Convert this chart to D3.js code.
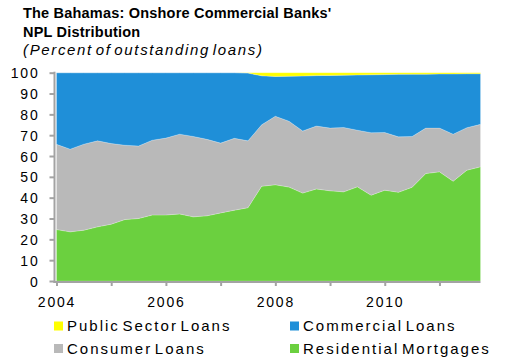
<!DOCTYPE html>
<html>
<head>
<meta charset="utf-8">
<script src="https://cdn.jsdelivr.net/npm/d3@7/dist/d3.min.js"></script>
<style>
  html, body { margin: 0; padding: 0; background: #fff; }
  svg { display: block; font-family: "Liberation Sans", Arial, sans-serif; }
</style>
</head>
<body>
<svg id="chart" width="517" height="361"></svg>
<script>
// Quarterly observations, 2004Q1 – 2011Q4
const quarters = [
  "2004Q1","2004Q2","2004Q3","2004Q4","2005Q1","2005Q2","2005Q3","2005Q4",
  "2006Q1","2006Q2","2006Q3","2006Q4","2007Q1","2007Q2","2007Q3","2007Q4",
  "2008Q1","2008Q2","2008Q3","2008Q4","2009Q1","2009Q2","2009Q3","2009Q4",
  "2010Q1","2010Q2","2010Q3","2010Q4","2011Q1","2011Q2","2011Q3","2011Q4"
];

// Share of non-performing loans by category (percent)
const residentialMortgages = [
  24.7, 23.6, 24.4, 26.0, 27.3, 29.5, 30.0, 31.7,
  31.7, 32.2, 30.8, 31.3, 32.7, 34.0, 35.2, 45.5,
  46.2, 45.1, 42.2, 44.2, 43.3, 42.8, 45.2, 41.2,
  43.6, 42.6, 45.0, 51.6, 52.4, 47.9, 53.2, 54.8
];
const consumerLoans = [
  40.9, 39.7, 41.3, 41.3, 38.7, 35.7, 34.8, 35.9,
  36.9, 38.3, 38.6, 36.7, 33.5, 34.5, 32.1, 29.5,
  32.9, 31.6, 29.8, 30.2, 30.1, 30.9, 27.2, 30.0,
  27.7, 26.6, 24.4, 21.8, 21.0, 22.6, 20.4, 20.4
];
const publicSectorLoans = [
  0, 0, 0, 0, 0, 0, 0, 0,
  0, 0, 0, 0, 0, 0, 0.2, 1.5,
  1.8, 1.7, 1.6, 1.4, 1.3, 1.2, 1.1, 1.0,
  0.9, 0.8, 0.7, 0.7, 0.6, 0.6, 0.5, 0.5
];
const commercialLoans = [
  34.4, 36.7, 34.3, 32.7, 34.0, 34.8, 35.2, 32.4,
  31.4, 29.5, 30.6, 32.0, 33.8, 31.5, 32.5, 23.5,
  19.1, 21.6, 26.4, 24.2, 25.3, 25.1, 26.5, 27.8,
  27.8, 30.0, 29.9, 25.9, 26.0, 28.9, 25.9, 24.3
];

const yTicks = [0, 10, 20, 30, 40, 50, 60, 70, 80, 90, 100];
const xTickYears = [2004, 2005, 2006, 2007, 2008, 2009, 2010, 2011];

const seriesInfo = [
  { key: "residential", name: "Residential Mortgages", color: "#6bd03f", values: residentialMortgages },
  { key: "consumer",    name: "Consumer Loans",        color: "#b9b9b9", values: consumerLoans },
  { key: "commercial",  name: "Commercial Loans",      color: "#1f8fd8", values: commercialLoans },
  { key: "public",      name: "Public Sector Loans",   color: "#ffff00", values: publicSectorLoans }
];

const rows = quarters.map((q, i) => {
  const row = { t: +q.slice(0, 4) + (+q.slice(5) - 1) / 4 };
  seriesInfo.forEach(s => { row[s.key] = s.values[i]; });
  return row;
});

const svg = d3.select("#chart");

const x = d3.scaleLinear().domain([2004, 2011.75]).range([56.5, 480.5]);
const y = d3.scaleLinear().domain([0, 100]).range([281, 72.7]);

const stack = d3.stack().keys(seriesInfo.map(s => s.key));
const layers = stack(rows);

const area = d3.area()
  .x(d => x(d.data.t))
  .y0(d => y(d[0]))
  .y1(d => y(d[1]));

svg.append("g")
  .selectAll("path")
  .data(layers)
  .join("path")
  .attr("d", area)
  .attr("fill", (d, i) => seriesInfo[i].color)
  .attr("stroke", "#ffffff")
  .attr("stroke-opacity", 0.35)
  .attr("stroke-width", 0.6);

const axisColor = "#a3a3a3";
const tickFont = { size: "14px", spacing: "1.8px" };

// y axis
const yAxis = svg.append("g")
  .attr("transform", "translate(54.5,0)")
  .call(d3.axisLeft(y).tickValues(yTicks).tickSize(5).tickSizeOuter(0).tickPadding(10));
yAxis.select(".domain").attr("stroke", axisColor).attr("stroke-width", 2)
  .attr("d", `M0,${y(100) - 1}V${y(0) + 2}`);
yAxis.selectAll(".tick line").attr("stroke", axisColor).attr("stroke-width", 2);
yAxis.selectAll(".tick text")
  .attr("fill", "#000")
  .style("font-size", tickFont.size)
  .style("letter-spacing", tickFont.spacing)
  .attr("dy", "0.36em");

// x axis
const xAxis = svg.append("g")
  .attr("transform", "translate(0,282)")
  .call(d3.axisBottom(x).tickValues(xTickYears).tickSize(4).tickSizeOuter(0).tickPadding(11)
    .tickFormat(d => (d % 2 === 0 ? String(d) : "")));
xAxis.select(".domain").attr("stroke", axisColor).attr("stroke-width", 2)
  .attr("d", `M53.5,0H${x(2011.75)}`);
xAxis.selectAll(".tick line").attr("stroke", axisColor).attr("stroke-width", 2);
xAxis.selectAll(".tick text")
  .attr("fill", "#000")
  .style("font-size", tickFont.size)
  .style("letter-spacing", tickFont.spacing);

// titles
svg.append("text")
  .attr("x", 23).attr("y", 17.5)
  .style("font-size", "14.5px").style("font-weight", "bold").style("letter-spacing", "0.2px")
  .text("The Bahamas: Onshore Commercial Banks'");
svg.append("text")
  .attr("x", 23).attr("y", 37)
  .style("font-size", "14.5px").style("font-weight", "bold").style("letter-spacing", "0.2px")
  .text("NPL Distribution");
svg.append("text")
  .attr("x", 23).attr("y", 55)
  .style("font-size", "15px").style("font-style", "italic")
  .style("letter-spacing", "1.65px").style("word-spacing", "-3px")
  .text("(Percent of outstanding loans)");

// legend
const legendItems = [
  { ref: "public",      col: 0, row: 0 },
  { ref: "commercial",  col: 1, row: 0 },
  { ref: "consumer",    col: 0, row: 1 },
  { ref: "residential", col: 1, row: 1 }
];
const legend = svg.append("g");
const lg = legend.selectAll("g")
  .data(legendItems)
  .join("g")
  .attr("transform", d => `translate(${d.col === 0 ? 54 : 290},${d.row === 0 ? 321.5 : 344})`);
lg.append("rect")
  .attr("width", 9).attr("height", 9)
  .attr("fill", d => seriesInfo.find(s => s.key === d.ref).color);
lg.append("text")
  .attr("x", 13).attr("y", 9.5)
  .style("font-size", "15px")
  .style("letter-spacing", "2px")
  .style("word-spacing", "-3.5px")
  .text(d => seriesInfo.find(s => s.key === d.ref).name);
</script>
</body>
</html>
